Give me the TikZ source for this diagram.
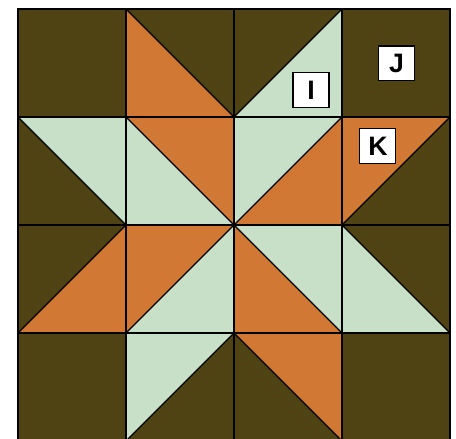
\documentclass[tikz,border=0pt]{standalone}
\usepackage{fontspec}
\setmainfont{Liberation Sans}
\usepackage{tikz}
\usetikzlibrary{positioning}
\definecolor{quiltdark}{RGB}{79,67,19}
\definecolor{quiltrust}{RGB}{209,120,52}
\definecolor{quiltsage}{RGB}{200,223,200}

\begin{document}
\begin{tikzpicture}[
  x=81pt, y=-81pt,
  seam/.style={draw=black, line width=1pt},
  tag/.style={draw=black, fill=white, line width=0.8pt, inner sep=0pt,
    minimum width=27pt, minimum height=26pt, font=\fontsize{20}{20}\selectfont\bfseries}
]
\useasboundingbox (-0.1667,-0.0833) rectangle (4.0556,3.9815);

% background blocks
\fill[quiltdark] (0,0) rectangle (4,4);

% rust triangles
\fill[quiltrust] (1,0) -- (1,1) -- (2,1) -- cycle;
\fill[quiltrust] (1,1) -- (2,1) -- (2,2) -- cycle;
\fill[quiltrust] (2,2) -- (3,2) -- (3,1) -- cycle;
\fill[quiltrust] (3,1) -- (4,1) -- (3,2) -- cycle;
\fill[quiltrust] (0,3) -- (1,3) -- (1,2) -- cycle;
\fill[quiltrust] (1,2) -- (2,2) -- (1,3) -- cycle;
\fill[quiltrust] (2,2) -- (2,3) -- (3,3) -- cycle;
\fill[quiltrust] (2,3) -- (3,3) -- (3,4) -- cycle;

% sage triangles
\fill[quiltsage] (2,1) -- (3,1) -- (3,0) -- cycle;
\fill[quiltsage] (0,1) -- (1,1) -- (1,2) -- cycle;
\fill[quiltsage] (1,1) -- (1,2) -- (2,2) -- cycle;
\fill[quiltsage] (2,1) -- (3,1) -- (2,2) -- cycle;
\fill[quiltsage] (1,3) -- (2,3) -- (2,2) -- cycle;
\fill[quiltsage] (2,2) -- (3,2) -- (3,3) -- cycle;
\fill[quiltsage] (3,2) -- (3,3) -- (4,3) -- cycle;
\fill[quiltsage] (1,3) -- (2,3) -- (1,4) -- cycle;

% diagonals
\foreach \c/\r in {1/0,0/1,1/1,2/2,3/2,2/3}
  \draw[seam] (\c,\r) -- ++(1,1);
\foreach \c/\r in {2/0,2/1,3/1,0/2,1/2,1/3}
  \draw[seam] (\c,{\r+1}) -- ++(1,-1);

% grid
\foreach \i in {1,2,3} {
  \draw[seam] (\i,0) -- (\i,4);
  \draw[seam] (0,\i) -- (4,\i);
}
\draw[seam] (0,0) rectangle (4,4);

% labels
\node[tag] (tagI) at (2.713,0.75) {I};
\node[tag] (tagJ) at (3.506,0.503) {J};
\node[tag] (tagK) at (3.333,1.269) {K};
\end{tikzpicture}
\end{document}
